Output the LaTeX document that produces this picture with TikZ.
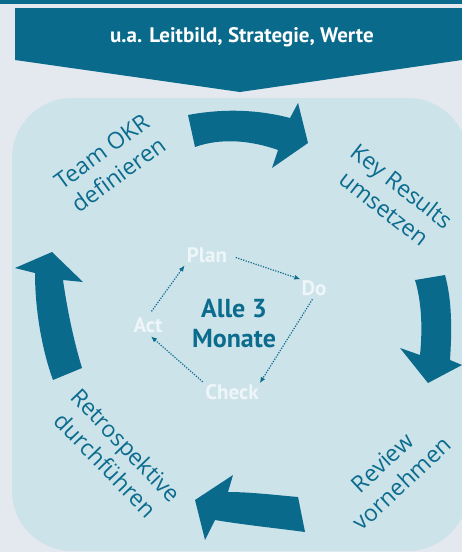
\documentclass[tikz,border=0pt]{standalone}
\usepackage{fontspec}
\setmainfont{Open Sans}
\newfontfamily\ptsans{PT Sans}
\usetikzlibrary{arrows.meta}
\definecolor{bgcol}{HTML}{E3E9EE}
\definecolor{boxcol}{HTML}{CDE3EA}
\definecolor{teal}{HTML}{0A6A8C}
\definecolor{lbl}{HTML}{0C6C8E}
\definecolor{light}{HTML}{EEF6F9}
\tikzset{
  bigarrow/.style={fill=teal, draw=none},
  steplabel/.style={text=lbl, font=\fontsize{23}{28.5}\selectfont, align=center, inner sep=0pt},
  pdca/.style={text=light, font=\ptsans\bfseries\fontsize{21}{24}\selectfont, inner sep=1pt},
  dotarrow/.style={draw=teal, line width=1.2pt, dash pattern=on 1.2pt off 1.4pt, -{Latex[length=6pt,width=5pt]}},
}
\begin{document}
\begin{tikzpicture}[x=1pt,y=-1pt]
\useasboundingbox (0,0) rectangle (462,552);
\fill[bgcol] (0,0) rectangle (462,552);
\fill[teal] (0,0) rectangle (462,4);
% banner
\fill[teal] (15,8) -- (462,8) -- (462,60) -- (240,92) -- (15,60) -- cycle;
\node[text=white, font=\ptsans\bfseries\fontsize{21}{24}\selectfont] (banner) at (242,37) {u.a. Leitbild, Strategie, Werte};
% big rounded panel
\fill[boxcol, rounded corners=60pt] (12,98) rectangle (468,551);
% curved arrows
\fill[bigarrow] (188,115) .. controls (225,108) and (260,110) .. (290,118) -- (298,103) -- (308,143) -- (272,168) -- (278,150) .. controls (250,140) and (220,138) .. (195,147) -- cycle;
\fill[bigarrow] (415,280) -- (445,275) .. controls (452,300) and (452,330) .. (450,360) -- (462,365) -- (428,383) -- (400,348) -- (420,355) .. controls (423,325) and (421,300) .. (415,280) -- cycle;
\fill[bigarrow] (298,497) .. controls (275,495) and (250,492) .. (228,492) -- (233,475) -- (195,500) -- (205,540) -- (215,520) .. controls (245,525) and (275,528) .. (305,532) -- cycle;
\fill[bigarrow] (15,268) -- (52,252) -- (83,282) -- (63,280) .. controls (68,315) and (75,345) .. (82,368) -- (53,380) .. controls (42,350) and (35,310) .. (35,273) -- cycle;
% step labels
\node[steplabel, rotate=36] (team) at (110,163) {Team OKR\\definieren};
\node[steplabel, rotate=-38] (keyres) at (393,197) {Key Results\\umsetzen};
\node[steplabel, rotate=43] (review) at (392,473) {Review\\vornehmen};
\node[steplabel, rotate=-46] (retro) at (116,455) {Retrospektive\\durchführen};
% centre
\node[text=lbl, font=\ptsans\bfseries\fontsize{26}{30}\selectfont, align=center] (centre) at (234,324) {Alle 3\\Monate};
\node[pdca] (plan) at (207,255) {Plan};
\node[pdca] (do) at (314,288) {Do};
\node[pdca] (check) at (232,392) {Check};
\node[pdca] (act) at (148,325) {Act};
\draw[dotarrow, shorten <=8pt] (plan.east) -- (do.north west);
\draw[dotarrow, shorten <=3pt] (do.south) -- (check.north east);
\draw[dotarrow, shorten <=2pt, shorten >=4pt] (check.north west) -- (act.south);
\draw[dotarrow, shorten <=6pt, shorten >=2pt] (act.north) -- (plan.south west);
\end{tikzpicture}
\end{document}
